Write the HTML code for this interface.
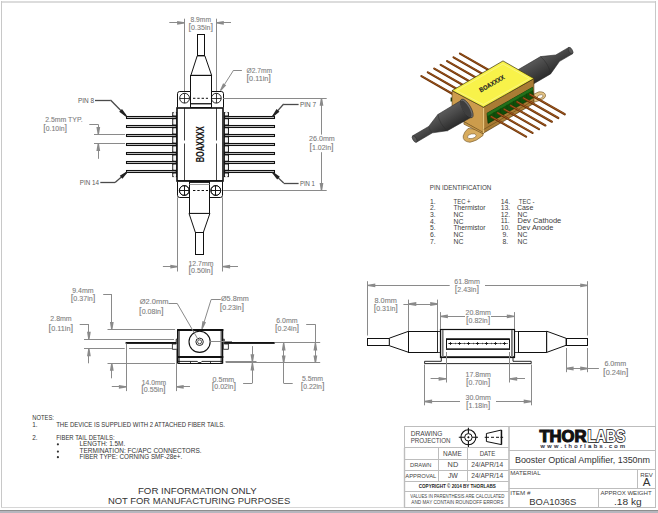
<!DOCTYPE html>
<html><head><meta charset="utf-8"><style>html,body{margin:0;padding:0;background:#fff;overflow:hidden}svg{display:block}</style></head>
<body><svg width="658" height="513" viewBox="0 0 658 513">
<rect x="0" y="0" width="658" height="513" fill="#fff"/>
<rect x="1" y="1" width="655" height="2" fill="#dcdcdc"/>
<rect x="1" y="1" width="1" height="507" fill="#c8c8c8"/>
<rect x="655" y="1" width="1" height="507" fill="#c8c8c8"/>
<rect x="1" y="507" width="655" height="1" fill="#d6d6d6"/>
<rect x="0" y="510" width="658" height="1" fill="#8e8e8e"/>
<rect x="0" y="511" width="658" height="2" fill="#b6b6be"/>
<line x1="184.50" y1="18.70" x2="184.50" y2="91.00" stroke="#8a8a8a" stroke-width="1.0" />
<line x1="216.50" y1="18.70" x2="216.50" y2="91.00" stroke="#8a8a8a" stroke-width="1.0" />
<line x1="169.30" y1="22.50" x2="184.60" y2="22.50" stroke="#8a8a8a" stroke-width="1.0" />
<polygon points="184.60,23.45 177.10,24.69 177.10,20.91 184.60,22.15" fill="#8a8a8a" stroke="none" stroke-width="1.0" />
<line x1="216.30" y1="22.50" x2="231.00" y2="22.50" stroke="#8a8a8a" stroke-width="1.0" />
<polygon points="216.30,22.15 223.80,20.91 223.80,24.69 216.30,23.45" fill="#8a8a8a" stroke="none" stroke-width="1.0" />
<text x="190.50" y="22.10" font-family="Liberation Sans" font-size="6.8" fill="#7c7c7c" text-anchor="start" font-weight="normal" textLength="20.50" lengthAdjust="spacingAndGlyphs"  stroke="#7c7c7c" stroke-width="0.08">8.9mm</text>
<text x="188.50" y="30.30" font-family="Liberation Sans" font-size="6.8" fill="#7c7c7c" text-anchor="start" font-weight="normal" textLength="24.50" lengthAdjust="spacingAndGlyphs"  stroke="#7c7c7c" stroke-width="0.08"><tspan font-size="8.84">[</tspan>0.35in<tspan font-size="8.84">]</tspan></text>
<rect x="197.50" y="34.50" width="7.00" height="21.00" rx="0" fill="#fff" stroke="#111" stroke-width="1.0" />
<polygon points="197.20,55.90 204.90,55.90 211.60,75.30 190.90,75.30" fill="#fff" stroke="#111" stroke-width="1.0" />
<rect x="190.50" y="75.50" width="21.00" height="32.00" rx="0" fill="#fff" stroke="#111" stroke-width="1.0" />
<line x1="190.90" y1="103.50" x2="211.60" y2="103.50" stroke="#111" stroke-width="0.9" />
<line x1="190.90" y1="104.50" x2="211.60" y2="104.50" stroke="#777" stroke-width="0.7" />
<path d="M177.5,107.5 L177.5,93.7 Q177.5,91.5 179.7,91.5 L190.5,91.5 L190.5,107.5" fill="#fff" stroke="#111" stroke-width="1"/>
<path d="M211.5,107.5 L211.5,91.5 L221.3,91.5 Q223.5,91.5 223.5,93.7 L223.5,107.5" fill="#fff" stroke="#111" stroke-width="1"/>
<circle cx="184.60" cy="98.20" r="4.90" fill="none" stroke="#111" stroke-width="0.9" />
<line x1="179.70" y1="98.50" x2="189.50" y2="98.50" stroke="#111" stroke-width="0.8" />
<line x1="184.50" y1="93.30" x2="184.50" y2="103.10" stroke="#111" stroke-width="0.8" />
<circle cx="216.30" cy="98.20" r="4.90" fill="none" stroke="#111" stroke-width="0.9" />
<line x1="211.40" y1="98.50" x2="221.20" y2="98.50" stroke="#111" stroke-width="0.8" />
<line x1="216.50" y1="93.30" x2="216.50" y2="103.10" stroke="#111" stroke-width="0.8" />
<line x1="193" y1="98.3" x2="208" y2="98.3" stroke="#111" stroke-width="1" stroke-dasharray="2.4,1.9"/>
<line x1="223.10" y1="98.50" x2="326.70" y2="98.50" stroke="#8a8a8a" stroke-width="1.0" />
<line x1="223.10" y1="190.50" x2="326.70" y2="190.50" stroke="#8a8a8a" stroke-width="1.0" />
<line x1="321.50" y1="98.20" x2="321.50" y2="134.60" stroke="#8a8a8a" stroke-width="1.0" />
<polygon points="322.15,98.20 323.38,105.70 319.62,105.70 320.85,98.20" fill="#8a8a8a" stroke="none" stroke-width="1.0" />
<line x1="321.50" y1="152.20" x2="321.50" y2="190.50" stroke="#8a8a8a" stroke-width="1.0" />
<polygon points="320.85,190.50 319.62,183.00 323.38,183.00 322.15,190.50" fill="#8a8a8a" stroke="none" stroke-width="1.0" />
<text x="309.00" y="141.00" font-family="Liberation Sans" font-size="6.8" fill="#7c7c7c" text-anchor="start" font-weight="normal" textLength="25.80" lengthAdjust="spacingAndGlyphs"  stroke="#7c7c7c" stroke-width="0.08">26.0mm</text>
<text x="309.50" y="149.70" font-family="Liberation Sans" font-size="6.8" fill="#7c7c7c" text-anchor="start" font-weight="normal" textLength="24.10" lengthAdjust="spacingAndGlyphs"  stroke="#7c7c7c" stroke-width="0.08"><tspan font-size="8.84">[</tspan>1.02in<tspan font-size="8.84">]</tspan></text>
<line x1="241.90" y1="70.50" x2="233.70" y2="70.50" stroke="#8a8a8a" stroke-width="1.0" />
<line x1="233.70" y1="70.00" x2="220.60" y2="90.50" stroke="#8a8a8a" stroke-width="1.0" />
<polygon points="220.05,90.15 223.05,83.17 226.23,85.20 221.15,90.85" fill="#8a8a8a" stroke="none" stroke-width="1.0" />
<text x="246.50" y="72.80" font-family="Liberation Sans" font-size="6.8" fill="#7c7c7c" text-anchor="start" font-weight="normal" textLength="25.50" lengthAdjust="spacingAndGlyphs"  stroke="#7c7c7c" stroke-width="0.08">Ø2.7mm</text>
<text x="246.50" y="80.60" font-family="Liberation Sans" font-size="6.8" fill="#7c7c7c" text-anchor="start" font-weight="normal" textLength="24.50" lengthAdjust="spacingAndGlyphs"  stroke="#7c7c7c" stroke-width="0.08"><tspan font-size="8.84">[</tspan>0.11in<tspan font-size="8.84">]</tspan></text>
<rect x="126.50" y="116.50" width="46.00" height="2.00" rx="0" fill="#c4c4c4" stroke="#111" stroke-width="1.05" />
<rect x="228.50" y="116.50" width="46.00" height="2.00" rx="0" fill="#c4c4c4" stroke="#111" stroke-width="1.05" />
<rect x="126.50" y="125.50" width="46.00" height="2.00" rx="0" fill="#c4c4c4" stroke="#111" stroke-width="1.05" />
<rect x="228.50" y="125.50" width="46.00" height="2.00" rx="0" fill="#c4c4c4" stroke="#111" stroke-width="1.05" />
<rect x="126.50" y="134.50" width="46.00" height="2.00" rx="0" fill="#c4c4c4" stroke="#111" stroke-width="1.05" />
<rect x="228.50" y="134.50" width="46.00" height="2.00" rx="0" fill="#c4c4c4" stroke="#111" stroke-width="1.05" />
<rect x="126.50" y="143.50" width="46.00" height="2.00" rx="0" fill="#c4c4c4" stroke="#111" stroke-width="1.05" />
<rect x="228.50" y="143.50" width="46.00" height="2.00" rx="0" fill="#c4c4c4" stroke="#111" stroke-width="1.05" />
<rect x="126.50" y="152.50" width="46.00" height="2.00" rx="0" fill="#c4c4c4" stroke="#111" stroke-width="1.05" />
<rect x="228.50" y="152.50" width="46.00" height="2.00" rx="0" fill="#c4c4c4" stroke="#111" stroke-width="1.05" />
<rect x="126.50" y="161.50" width="46.00" height="2.00" rx="0" fill="#c4c4c4" stroke="#111" stroke-width="1.05" />
<rect x="228.50" y="161.50" width="46.00" height="2.00" rx="0" fill="#c4c4c4" stroke="#111" stroke-width="1.05" />
<rect x="126.50" y="170.50" width="46.00" height="2.00" rx="0" fill="#c4c4c4" stroke="#111" stroke-width="1.05" />
<rect x="228.50" y="170.50" width="46.00" height="2.00" rx="0" fill="#c4c4c4" stroke="#111" stroke-width="1.05" />
<rect x="172.80" y="112.6" width="4.0" height="64" fill="#fff" stroke="#111" stroke-width="1"/>
<rect x="224.40" y="112.6" width="4.0" height="64" fill="#fff" stroke="#111" stroke-width="1"/>
<rect x="172.30" y="115.45" width="5.0" height="3.8" fill="#111"/>
<rect x="223.90" y="115.45" width="5.0" height="3.8" fill="#111"/>
<rect x="172.1" y="116.95" width="3.6" height="0.8" fill="#cfcfcf"/>
<rect x="225.2" y="116.95" width="3.6" height="0.8" fill="#cfcfcf"/>
<rect x="172.30" y="124.50" width="5.0" height="3.8" fill="#111"/>
<rect x="223.90" y="124.50" width="5.0" height="3.8" fill="#111"/>
<rect x="172.1" y="126.00" width="3.6" height="0.8" fill="#cfcfcf"/>
<rect x="225.2" y="126.00" width="3.6" height="0.8" fill="#cfcfcf"/>
<rect x="172.30" y="133.55" width="5.0" height="3.8" fill="#111"/>
<rect x="223.90" y="133.55" width="5.0" height="3.8" fill="#111"/>
<rect x="172.1" y="135.05" width="3.6" height="0.8" fill="#cfcfcf"/>
<rect x="225.2" y="135.05" width="3.6" height="0.8" fill="#cfcfcf"/>
<rect x="172.30" y="142.60" width="5.0" height="3.8" fill="#111"/>
<rect x="223.90" y="142.60" width="5.0" height="3.8" fill="#111"/>
<rect x="172.1" y="144.10" width="3.6" height="0.8" fill="#cfcfcf"/>
<rect x="225.2" y="144.10" width="3.6" height="0.8" fill="#cfcfcf"/>
<rect x="172.30" y="151.65" width="5.0" height="3.8" fill="#111"/>
<rect x="223.90" y="151.65" width="5.0" height="3.8" fill="#111"/>
<rect x="172.1" y="153.15" width="3.6" height="0.8" fill="#cfcfcf"/>
<rect x="225.2" y="153.15" width="3.6" height="0.8" fill="#cfcfcf"/>
<rect x="172.30" y="160.70" width="5.0" height="3.8" fill="#111"/>
<rect x="223.90" y="160.70" width="5.0" height="3.8" fill="#111"/>
<rect x="172.1" y="162.20" width="3.6" height="0.8" fill="#cfcfcf"/>
<rect x="225.2" y="162.20" width="3.6" height="0.8" fill="#cfcfcf"/>
<rect x="172.30" y="169.75" width="5.0" height="3.8" fill="#111"/>
<rect x="223.90" y="169.75" width="5.0" height="3.8" fill="#111"/>
<rect x="172.1" y="171.25" width="3.6" height="0.8" fill="#cfcfcf"/>
<rect x="225.2" y="171.25" width="3.6" height="0.8" fill="#cfcfcf"/>
<rect x="173.7" y="111.05" width="2.2" height="4.0" fill="#f4f4f4"/>
<rect x="225.3" y="111.05" width="2.2" height="4.0" fill="#f4f4f4"/>
<rect x="173.7" y="119.88" width="2.2" height="4.0" fill="#f4f4f4"/>
<rect x="225.3" y="119.88" width="2.2" height="4.0" fill="#f4f4f4"/>
<rect x="173.7" y="128.92" width="2.2" height="4.0" fill="#f4f4f4"/>
<rect x="225.3" y="128.92" width="2.2" height="4.0" fill="#f4f4f4"/>
<rect x="173.7" y="137.97" width="2.2" height="4.0" fill="#f4f4f4"/>
<rect x="225.3" y="137.97" width="2.2" height="4.0" fill="#f4f4f4"/>
<rect x="173.7" y="147.03" width="2.2" height="4.0" fill="#f4f4f4"/>
<rect x="225.3" y="147.03" width="2.2" height="4.0" fill="#f4f4f4"/>
<rect x="173.7" y="156.07" width="2.2" height="4.0" fill="#f4f4f4"/>
<rect x="225.3" y="156.07" width="2.2" height="4.0" fill="#f4f4f4"/>
<rect x="173.7" y="165.12" width="2.2" height="4.0" fill="#f4f4f4"/>
<rect x="225.3" y="165.12" width="2.2" height="4.0" fill="#f4f4f4"/>
<rect x="173.7" y="173.95" width="2.2" height="4.0" fill="#f4f4f4"/>
<rect x="225.3" y="173.95" width="2.2" height="4.0" fill="#f4f4f4"/>
<rect x="177.00" y="108.00" width="46.00" height="73.00" rx="0" fill="#fff" stroke="#111" stroke-width="1.6" />
<line x1="184.50" y1="107.80" x2="184.50" y2="140.50" stroke="#111" stroke-width="0.8" />
<line x1="184.50" y1="143.50" x2="184.50" y2="181.10" stroke="#111" stroke-width="0.8" />
<line x1="216.50" y1="107.80" x2="216.50" y2="140.50" stroke="#111" stroke-width="0.8" />
<line x1="216.50" y1="143.50" x2="216.50" y2="181.10" stroke="#111" stroke-width="0.8" />
<text transform="translate(203.8,144.3) rotate(-90)" font-family="Liberation Sans" font-size="10.2" font-weight="bold" fill="#111" stroke="#111" stroke-width="0.1" text-anchor="middle" textLength="36" lengthAdjust="spacingAndGlyphs">BOAXXXX</text>
<path d="M177.5,181.5 L177.5,195.3 Q177.5,197.5 179.7,197.5 L189.5,197.5 L189.5,181.5" fill="#fff" stroke="#111" stroke-width="1"/>
<path d="M209.5,181.5 L209.5,197.5 L220.3,197.5 Q222.5,197.5 222.5,195.3 L222.5,181.5" fill="#fff" stroke="#111" stroke-width="1"/>
<circle cx="184.30" cy="190.50" r="4.90" fill="none" stroke="#111" stroke-width="0.9" />
<line x1="179.40" y1="190.50" x2="189.20" y2="190.50" stroke="#111" stroke-width="0.8" />
<line x1="184.50" y1="185.60" x2="184.50" y2="195.40" stroke="#111" stroke-width="0.8" />
<circle cx="215.80" cy="190.50" r="4.90" fill="none" stroke="#111" stroke-width="0.9" />
<line x1="210.90" y1="190.50" x2="220.70" y2="190.50" stroke="#111" stroke-width="0.8" />
<line x1="215.50" y1="185.60" x2="215.50" y2="195.40" stroke="#111" stroke-width="0.8" />
<rect x="189.50" y="181.50" width="20.00" height="32.00" rx="0" fill="#fff" stroke="#111" stroke-width="1.0" />
<line x1="193" y1="190.5" x2="208" y2="190.5" stroke="#111" stroke-width="1" stroke-dasharray="2.4,1.9"/>
<line x1="189.00" y1="182.50" x2="209.90" y2="182.50" stroke="#111" stroke-width="0.9" />
<line x1="189.00" y1="184.50" x2="209.90" y2="184.50" stroke="#777" stroke-width="0.7" />
<circle cx="184.30" cy="190.50" r="4.90" fill="none" stroke="#111" stroke-width="0.9" />
<line x1="179.40" y1="190.50" x2="189.20" y2="190.50" stroke="#111" stroke-width="0.8" />
<line x1="184.50" y1="185.60" x2="184.50" y2="195.40" stroke="#111" stroke-width="0.8" />
<circle cx="215.80" cy="190.50" r="4.90" fill="none" stroke="#111" stroke-width="0.9" />
<line x1="210.90" y1="190.50" x2="220.70" y2="190.50" stroke="#111" stroke-width="0.8" />
<line x1="215.50" y1="185.60" x2="215.50" y2="195.40" stroke="#111" stroke-width="0.8" />
<polygon points="189.00,213.40 209.90,213.40 203.30,232.50 195.40,232.50" fill="#fff" stroke="#111" stroke-width="1.0" />
<rect x="195.50" y="232.50" width="8.00" height="22.00" rx="0" fill="#fff" stroke="#111" stroke-width="1.0" />
<line x1="177.30" y1="181.00" x2="222.90" y2="181.00" stroke="#111" stroke-width="1.6" />
<line x1="177.50" y1="197.30" x2="177.50" y2="271.50" stroke="#8a8a8a" stroke-width="1.0" />
<line x1="222.50" y1="197.30" x2="222.50" y2="271.50" stroke="#8a8a8a" stroke-width="1.0" />
<line x1="162.90" y1="266.50" x2="177.80" y2="266.50" stroke="#8a8a8a" stroke-width="1.0" />
<polygon points="177.80,267.25 170.30,268.49 170.30,264.72 177.80,265.95" fill="#8a8a8a" stroke="none" stroke-width="1.0" />
<line x1="222.60" y1="266.50" x2="238.00" y2="266.50" stroke="#8a8a8a" stroke-width="1.0" />
<polygon points="222.60,265.95 230.10,264.72 230.10,268.49 222.60,267.25" fill="#8a8a8a" stroke="none" stroke-width="1.0" />
<text x="188.50" y="265.60" font-family="Liberation Sans" font-size="6.8" fill="#7c7c7c" text-anchor="start" font-weight="normal" textLength="25.00" lengthAdjust="spacingAndGlyphs"  stroke="#7c7c7c" stroke-width="0.08">12.7mm</text>
<text x="188.50" y="272.50" font-family="Liberation Sans" font-size="6.8" fill="#7c7c7c" text-anchor="start" font-weight="normal" textLength="24.50" lengthAdjust="spacingAndGlyphs"  stroke="#7c7c7c" stroke-width="0.08"><tspan font-size="8.84">[</tspan>0.50in<tspan font-size="8.84">]</tspan></text>
<text x="78.00" y="102.90" font-family="Liberation Sans" font-size="7.0" fill="#5a5a5a" text-anchor="start" font-weight="normal" textLength="16.10" lengthAdjust="spacingAndGlyphs" stroke-width="0">PIN 8</text>
<line x1="95.00" y1="100.50" x2="110.50" y2="100.50" stroke="#4a4a4a" stroke-width="1.3" />
<line x1="110.50" y1="100.00" x2="126.20" y2="116.00" stroke="#4a4a4a" stroke-width="1.3" />
<polygon points="125.72,116.47 119.21,111.65 121.99,108.92 126.68,115.53" fill="#222" stroke="none" stroke-width="1.0" />
<text x="79.80" y="184.70" font-family="Liberation Sans" font-size="7.0" fill="#5a5a5a" text-anchor="start" font-weight="normal" textLength="19.20" lengthAdjust="spacingAndGlyphs" stroke-width="0">PIN 14</text>
<line x1="100.30" y1="182.50" x2="115.10" y2="182.50" stroke="#4a4a4a" stroke-width="1.3" />
<line x1="115.10" y1="182.50" x2="127.10" y2="172.00" stroke="#4a4a4a" stroke-width="1.3" />
<polygon points="127.54,172.51 122.36,178.74 119.80,175.80 126.66,171.49" fill="#222" stroke="none" stroke-width="1.0" />
<text x="299.90" y="107.10" font-family="Liberation Sans" font-size="7.0" fill="#5a5a5a" text-anchor="start" font-weight="normal" textLength="16.20" lengthAdjust="spacingAndGlyphs" stroke-width="0">PIN 7</text>
<line x1="283.70" y1="104.50" x2="298.60" y2="104.50" stroke="#4a4a4a" stroke-width="1.3" />
<line x1="283.70" y1="104.00" x2="272.70" y2="116.40" stroke="#4a4a4a" stroke-width="1.3" />
<polygon points="272.19,115.95 276.54,109.12 279.46,111.70 273.21,116.85" fill="#222" stroke="none" stroke-width="1.0" />
<text x="299.90" y="185.90" font-family="Liberation Sans" font-size="7.0" fill="#5a5a5a" text-anchor="start" font-weight="normal" textLength="15.00" lengthAdjust="spacingAndGlyphs" stroke-width="0">PIN 1</text>
<line x1="283.70" y1="183.50" x2="298.60" y2="183.50" stroke="#4a4a4a" stroke-width="1.3" />
<line x1="283.70" y1="183.00" x2="272.70" y2="172.60" stroke="#4a4a4a" stroke-width="1.3" />
<polygon points="273.16,172.11 279.85,176.68 277.18,179.51 272.24,173.09" fill="#222" stroke="none" stroke-width="1.0" />
<text x="45.20" y="122.20" font-family="Liberation Sans" font-size="6.8" fill="#7c7c7c" text-anchor="start" font-weight="normal" textLength="37.40" lengthAdjust="spacingAndGlyphs"  stroke="#7c7c7c" stroke-width="0.08">2.5mm  TYP.</text>
<text x="43.30" y="131.00" font-family="Liberation Sans" font-size="6.8" fill="#7c7c7c" text-anchor="start" font-weight="normal" textLength="23.70" lengthAdjust="spacingAndGlyphs"  stroke="#7c7c7c" stroke-width="0.08"><tspan font-size="8.84">[</tspan>0.10in<tspan font-size="8.84">]</tspan></text>
<line x1="89.30" y1="124.50" x2="98.30" y2="124.50" stroke="#8a8a8a" stroke-width="1.0" />
<line x1="98.50" y1="124.40" x2="98.50" y2="134.40" stroke="#8a8a8a" stroke-width="1.0" />
<polygon points="97.65,134.40 96.41,126.90 100.19,126.90 98.95,134.40" fill="#8a8a8a" stroke="none" stroke-width="1.0" />
<line x1="94.00" y1="134.50" x2="125.00" y2="134.50" stroke="#8a8a8a" stroke-width="1.0" />
<line x1="94.00" y1="143.50" x2="125.00" y2="143.50" stroke="#8a8a8a" stroke-width="1.0" />
<line x1="98.50" y1="143.50" x2="98.50" y2="158.80" stroke="#8a8a8a" stroke-width="1.0" />
<polygon points="98.95,143.50 100.19,151.00 96.41,151.00 97.65,143.50" fill="#8a8a8a" stroke="none" stroke-width="1.0" />
<defs><linearGradient id="gL" gradientUnits="userSpaceOnUse" x1="436" y1="113" x2="447" y2="131"><stop offset="0" stop-color="#606060"/><stop offset="0.45" stop-color="#4a4a4a"/><stop offset="1" stop-color="#2c2c2c"/></linearGradient><linearGradient id="gR" gradientUnits="userSpaceOnUse" x1="538" y1="55" x2="549" y2="74"><stop offset="0" stop-color="#5e5e5e"/><stop offset="0.5" stop-color="#464646"/><stop offset="1" stop-color="#2e2e2e"/></linearGradient></defs>
<line x1="421.40" y1="76.10" x2="452.68" y2="93.92" stroke="#6a3206" stroke-width="2.2" stroke-linecap="round"/>
<line x1="421.40" y1="75.90" x2="452.68" y2="93.72" stroke="#a0561e" stroke-width="0.9" stroke-linecap="round"/>
<line x1="427.83" y1="72.35" x2="459.11" y2="90.17" stroke="#6a3206" stroke-width="2.2" stroke-linecap="round"/>
<line x1="427.83" y1="72.15" x2="459.11" y2="89.97" stroke="#a0561e" stroke-width="0.9" stroke-linecap="round"/>
<line x1="434.26" y1="68.60" x2="465.54" y2="86.42" stroke="#6a3206" stroke-width="2.2" stroke-linecap="round"/>
<line x1="434.26" y1="68.40" x2="465.54" y2="86.22" stroke="#a0561e" stroke-width="0.9" stroke-linecap="round"/>
<line x1="440.69" y1="64.85" x2="471.97" y2="82.67" stroke="#6a3206" stroke-width="2.2" stroke-linecap="round"/>
<line x1="440.69" y1="64.65" x2="471.97" y2="82.47" stroke="#a0561e" stroke-width="0.9" stroke-linecap="round"/>
<line x1="447.12" y1="61.10" x2="478.40" y2="78.92" stroke="#6a3206" stroke-width="2.2" stroke-linecap="round"/>
<line x1="447.12" y1="60.90" x2="478.40" y2="78.72" stroke="#a0561e" stroke-width="0.9" stroke-linecap="round"/>
<line x1="453.55" y1="57.35" x2="484.83" y2="75.17" stroke="#6a3206" stroke-width="2.2" stroke-linecap="round"/>
<line x1="453.55" y1="57.15" x2="484.83" y2="74.97" stroke="#a0561e" stroke-width="0.9" stroke-linecap="round"/>
<line x1="459.98" y1="53.60" x2="491.26" y2="71.42" stroke="#6a3206" stroke-width="2.2" stroke-linecap="round"/>
<line x1="459.98" y1="53.40" x2="491.26" y2="71.22" stroke="#a0561e" stroke-width="0.9" stroke-linecap="round"/>
<polygon points="568.73,47.41 555.79,54.98 540.52,56.62 512.04,73.28 522.14,90.54 550.62,73.88 559.52,61.37 572.47,53.79" fill="url(#gR)" stroke="#2a2a2a" stroke-width="0.6" />
<ellipse cx="570.60" cy="50.60" rx="1.8" ry="3.7" transform="rotate(-30.3 570.60 50.60)" fill="#585858" stroke="#2a2a2a" stroke-width="0.5"/>
<path d="M540.52,56.62 Q548.59,63.48 550.62,73.88" fill="none" stroke="#2a2a2a" stroke-width="0.5"/>
<path d="M532,95 L539,91.8 Q545.5,91.5 545.6,96 Q545.2,98.6 540.5,100.2 L533,102.5 Z" fill="#e4c486" stroke="#6b4d1e" stroke-width="0.6"/>
<ellipse cx="540.2" cy="96.6" rx="3.0" ry="1.7" transform="rotate(-20 540.2 96.6)" fill="#fff" stroke="#6b4d1e" stroke-width="0.5"/>
<path d="M468,128.5 L475,129 L483,133.5 L483,135.5 Q476,141.5 470,142.3 Q462.5,141.5 463.2,136 Q464,132 468,128.5 Z" fill="#d8ac5e" stroke="#6b4d1e" stroke-width="0.6"/>
<ellipse cx="471.8" cy="136.2" rx="4.4" ry="2.3" transform="rotate(-12 471.8 136.2)" fill="#fff" stroke="#6b4d1e" stroke-width="0.5"/>
<rect x="450.6" y="97.5" width="1.6" height="4" fill="#0c3a08"/>
<polygon points="452.10,90.60 483.40,107.20 483.40,133.20 463.90,121.70 452.10,115.40" fill="#cc9c4c" stroke="#5a3f14" stroke-width="0.6" />
<polygon points="463.90,121.70 483.40,132.40 483.40,134.00 467.80,126.20 463.90,124.20" fill="#c89a4c" stroke="#5a3f14" stroke-width="0.5" />
<polygon points="483.40,107.20 533.90,78.60 533.90,103.40 483.40,133.20" fill="#a97c34" stroke="#4a3210" stroke-width="0.6" />
<line x1="483.50" y1="107.70" x2="483.50" y2="133.20" stroke="#e6c47c" stroke-width="1.3" />
<line x1="483.60" y1="129.50" x2="533.90" y2="100.20" stroke="#5a3f14" stroke-width="0.5" />
<polygon points="452.10,90.60 503.00,60.90 533.90,78.60 483.40,107.20" fill="#f8f24a" stroke="#3a3008" stroke-width="0.7" />
<polygon points="456.50,90.70 503.00,64.00 529.60,78.70 483.40,104.60" fill="none" stroke="#faf6a0" stroke-width="0.6" />
<text transform="translate(493.0,85.6) rotate(-29.8)" font-family="Liberation Sans" font-size="6.4" font-weight="bold" fill="#222" stroke="#222" stroke-width="0.15" text-anchor="middle" textLength="28" lengthAdjust="spacingAndGlyphs">BOAXXXX</text>
<polygon points="487.00,113.20 532.60,87.30 533.60,97.60 488.00,123.40" fill="#0f4f0a" stroke="#062a03" stroke-width="0.6" />
<polygon points="487.00,113.20 532.60,87.30 533.20,90.00 487.60,115.90" fill="#22701a" stroke="none" stroke-width="0" />
<line x1="493.90" y1="112.00" x2="494.30" y2="119.50" stroke="#0e3a08" stroke-width="0.5" />
<line x1="500.40" y1="108.30" x2="500.80" y2="115.80" stroke="#0e3a08" stroke-width="0.5" />
<line x1="506.90" y1="104.60" x2="507.30" y2="112.10" stroke="#0e3a08" stroke-width="0.5" />
<line x1="513.40" y1="100.90" x2="513.80" y2="108.40" stroke="#0e3a08" stroke-width="0.5" />
<line x1="519.90" y1="97.20" x2="520.30" y2="104.70" stroke="#0e3a08" stroke-width="0.5" />
<line x1="526.40" y1="93.50" x2="526.80" y2="101.00" stroke="#0e3a08" stroke-width="0.5" />
<line x1="491.30" y1="116.80" x2="526.06" y2="136.60" stroke="#6a3206" stroke-width="2.2" stroke-linecap="round"/>
<line x1="491.30" y1="116.55" x2="526.06" y2="136.35" stroke="#b0642a" stroke-width="0.8" stroke-linecap="round"/>
<line x1="497.75" y1="113.08" x2="532.51" y2="132.88" stroke="#6a3206" stroke-width="2.2" stroke-linecap="round"/>
<line x1="497.75" y1="112.83" x2="532.51" y2="132.63" stroke="#b0642a" stroke-width="0.8" stroke-linecap="round"/>
<line x1="504.20" y1="109.36" x2="538.96" y2="129.16" stroke="#6a3206" stroke-width="2.2" stroke-linecap="round"/>
<line x1="504.20" y1="109.11" x2="538.96" y2="128.91" stroke="#b0642a" stroke-width="0.8" stroke-linecap="round"/>
<line x1="510.65" y1="105.64" x2="545.41" y2="125.44" stroke="#6a3206" stroke-width="2.2" stroke-linecap="round"/>
<line x1="510.65" y1="105.39" x2="545.41" y2="125.19" stroke="#b0642a" stroke-width="0.8" stroke-linecap="round"/>
<line x1="517.10" y1="101.92" x2="551.86" y2="121.72" stroke="#6a3206" stroke-width="2.2" stroke-linecap="round"/>
<line x1="517.10" y1="101.67" x2="551.86" y2="121.47" stroke="#b0642a" stroke-width="0.8" stroke-linecap="round"/>
<line x1="523.55" y1="98.20" x2="558.31" y2="118.00" stroke="#6a3206" stroke-width="2.2" stroke-linecap="round"/>
<line x1="523.55" y1="97.95" x2="558.31" y2="117.75" stroke="#b0642a" stroke-width="0.8" stroke-linecap="round"/>
<line x1="530.00" y1="94.48" x2="564.76" y2="114.28" stroke="#6a3206" stroke-width="2.2" stroke-linecap="round"/>
<line x1="530.00" y1="94.23" x2="564.76" y2="114.03" stroke="#b0642a" stroke-width="0.8" stroke-linecap="round"/>
<polygon points="416.47,142.19 432.43,132.85 447.39,130.70 471.76,116.90 461.86,99.99 437.90,114.48 428.70,126.46 412.73,135.81" fill="url(#gL)" stroke="#2a2a2a" stroke-width="0.6" />
<ellipse cx="466.81" cy="108.45" rx="4.0" ry="10.6" transform="rotate(-30.3 466.81 108.45)" fill="#707070" stroke="#2a2a2a" stroke-width="0.6"/>
<ellipse cx="466.11" cy="108.85" rx="3.2" ry="9.4" transform="rotate(-30.3 466.11 108.85)" fill="#3e3e3e" stroke="none"/>
<ellipse cx="414.60" cy="139.00" rx="1.8" ry="3.7" transform="rotate(-30.3 414.60 139.00)" fill="#585858" stroke="#2a2a2a" stroke-width="0.5"/>
<path d="M437.80,114.30 Q439.63,124.36 447.50,130.87" fill="none" stroke="#2a2a2a" stroke-width="0.5"/>
<path d="M428.70,126.46 Q429.27,130.41 432.43,132.85" fill="none" stroke="#2a2a2a" stroke-width="0.4"/>
<text x="429.80" y="189.80" font-family="Liberation Sans" font-size="6.6" fill="#3c3c3c" text-anchor="start" font-weight="normal" textLength="61.50" lengthAdjust="spacingAndGlyphs" >PIN IDENTIFICATION</text>
<text x="430.00" y="203.90" font-family="Liberation Sans" font-size="6.8" fill="#3c3c3c" text-anchor="start" font-weight="normal" >1.</text>
<text x="453.50" y="203.90" font-family="Liberation Sans" font-size="6.8" fill="#3c3c3c" text-anchor="start" font-weight="normal" textLength="17.10" lengthAdjust="spacingAndGlyphs" >TEC +</text>
<text x="430.00" y="209.60" font-family="Liberation Sans" font-size="6.8" fill="#3c3c3c" text-anchor="start" font-weight="normal" >2.</text>
<text x="453.50" y="209.60" font-family="Liberation Sans" font-size="6.8" fill="#3c3c3c" text-anchor="start" font-weight="normal" textLength="31.90" lengthAdjust="spacingAndGlyphs" >Thermistor</text>
<text x="430.00" y="216.80" font-family="Liberation Sans" font-size="6.8" fill="#3c3c3c" text-anchor="start" font-weight="normal" >3.</text>
<text x="453.50" y="216.80" font-family="Liberation Sans" font-size="6.8" fill="#3c3c3c" text-anchor="start" font-weight="normal" textLength="9.90" lengthAdjust="spacingAndGlyphs" >NC</text>
<text x="430.00" y="223.70" font-family="Liberation Sans" font-size="6.8" fill="#3c3c3c" text-anchor="start" font-weight="normal" >4.</text>
<text x="453.50" y="223.70" font-family="Liberation Sans" font-size="6.8" fill="#3c3c3c" text-anchor="start" font-weight="normal" textLength="9.90" lengthAdjust="spacingAndGlyphs" >NC</text>
<text x="430.00" y="229.80" font-family="Liberation Sans" font-size="6.8" fill="#3c3c3c" text-anchor="start" font-weight="normal" >5.</text>
<text x="453.50" y="229.80" font-family="Liberation Sans" font-size="6.8" fill="#3c3c3c" text-anchor="start" font-weight="normal" textLength="31.90" lengthAdjust="spacingAndGlyphs" >Thermistor</text>
<text x="430.00" y="237.10" font-family="Liberation Sans" font-size="6.8" fill="#3c3c3c" text-anchor="start" font-weight="normal" >6.</text>
<text x="453.50" y="237.10" font-family="Liberation Sans" font-size="6.8" fill="#3c3c3c" text-anchor="start" font-weight="normal" textLength="9.90" lengthAdjust="spacingAndGlyphs" >NC</text>
<text x="430.00" y="243.90" font-family="Liberation Sans" font-size="6.8" fill="#3c3c3c" text-anchor="start" font-weight="normal" >7.</text>
<text x="453.50" y="243.90" font-family="Liberation Sans" font-size="6.8" fill="#3c3c3c" text-anchor="start" font-weight="normal" textLength="9.90" lengthAdjust="spacingAndGlyphs" >NC</text>
<text x="500.80" y="203.60" font-family="Liberation Sans" font-size="6.8" fill="#3c3c3c" text-anchor="start" font-weight="normal" >14.</text>
<text x="518.70" y="203.60" font-family="Liberation Sans" font-size="6.8" fill="#3c3c3c" text-anchor="start" font-weight="normal" textLength="15.80" lengthAdjust="spacingAndGlyphs" >TEC -</text>
<text x="500.80" y="209.70" font-family="Liberation Sans" font-size="6.8" fill="#3c3c3c" text-anchor="start" font-weight="normal" >13.</text>
<text x="516.90" y="209.70" font-family="Liberation Sans" font-size="6.8" fill="#3c3c3c" text-anchor="start" font-weight="normal" textLength="16.40" lengthAdjust="spacingAndGlyphs" >Case</text>
<text x="500.80" y="217.00" font-family="Liberation Sans" font-size="6.8" fill="#3c3c3c" text-anchor="start" font-weight="normal" >12.</text>
<text x="517.50" y="217.00" font-family="Liberation Sans" font-size="6.8" fill="#3c3c3c" text-anchor="start" font-weight="normal" textLength="9.90" lengthAdjust="spacingAndGlyphs" >NC</text>
<text x="500.80" y="223.40" font-family="Liberation Sans" font-size="6.8" fill="#3c3c3c" text-anchor="start" font-weight="normal" >11.</text>
<text x="517.50" y="223.40" font-family="Liberation Sans" font-size="6.8" fill="#3c3c3c" text-anchor="start" font-weight="normal" textLength="43.80" lengthAdjust="spacingAndGlyphs" >Dev Cathode</text>
<text x="500.80" y="229.50" font-family="Liberation Sans" font-size="6.8" fill="#3c3c3c" text-anchor="start" font-weight="normal" >10.</text>
<text x="517.00" y="229.50" font-family="Liberation Sans" font-size="6.8" fill="#3c3c3c" text-anchor="start" font-weight="normal" textLength="36.40" lengthAdjust="spacingAndGlyphs" >Dev Anode</text>
<text x="502.50" y="236.80" font-family="Liberation Sans" font-size="6.8" fill="#3c3c3c" text-anchor="start" font-weight="normal" >9.</text>
<text x="517.50" y="236.80" font-family="Liberation Sans" font-size="6.8" fill="#3c3c3c" text-anchor="start" font-weight="normal" textLength="9.90" lengthAdjust="spacingAndGlyphs" >NC</text>
<text x="502.50" y="243.50" font-family="Liberation Sans" font-size="6.8" fill="#3c3c3c" text-anchor="start" font-weight="normal" >8.</text>
<text x="517.50" y="243.50" font-family="Liberation Sans" font-size="6.8" fill="#3c3c3c" text-anchor="start" font-weight="normal" textLength="9.90" lengthAdjust="spacingAndGlyphs" >NC</text>
<rect x="125.6" y="342" width="51.6" height="1.9" fill="#111"/>
<rect x="223.3" y="342" width="51.4" height="1.9" fill="#111"/>
<rect x="177" y="329" width="2.9" height="34.5" fill="#666"/>
<rect x="220.5" y="329" width="2.9" height="34.5" fill="#666"/>
<line x1="177.20" y1="330.00" x2="223.30" y2="330.00" stroke="#111" stroke-width="1.8" />
<line x1="177.20" y1="357.00" x2="223.30" y2="357.00" stroke="#111" stroke-width="1.8" />
<line x1="177.50" y1="329.80" x2="177.50" y2="363.20" stroke="#111" stroke-width="1.0" />
<line x1="222.50" y1="329.80" x2="222.50" y2="363.20" stroke="#111" stroke-width="1.0" />
<path d="M177.7,361.4 L197.3,361.4 L198.3,362.6 L200.9,362.6 L201.9,361.4 L222.7,361.4" fill="none" stroke="#111" stroke-width="0.9"/>
<line x1="177.70" y1="363.50" x2="222.70" y2="363.50" stroke="#111" stroke-width="1.0" />
<line x1="190.50" y1="361.40" x2="190.50" y2="363.20" stroke="#111" stroke-width="0.8" />
<line x1="210.50" y1="361.40" x2="210.50" y2="363.20" stroke="#111" stroke-width="0.8" />
<polygon points="176.20,339.10 177.20,339.10 177.20,349.30 172.40,349.30 172.40,344.00 176.20,344.00" fill="#fff" stroke="#111" stroke-width="0.8" />
<polygon points="223.30,339.10 224.30,339.10 224.30,344.00 228.40,344.00 228.40,349.30 223.30,349.30" fill="#fff" stroke="#111" stroke-width="0.8" />
<circle cx="199.60" cy="341.80" r="10.60" fill="none" stroke="#111" stroke-width="1.1" />
<circle cx="199.60" cy="341.80" r="3.70" fill="none" stroke="#111" stroke-width="0.9" />
<circle cx="199.60" cy="341.80" r="2.00" fill="none" stroke="#111" stroke-width="0.7" />
<line x1="210.20" y1="341.50" x2="232.00" y2="341.50" stroke="#8a8a8a" stroke-width="1.0" />
<line x1="107.50" y1="329.50" x2="175.10" y2="329.50" stroke="#8a8a8a" stroke-width="1.0" />
<line x1="84.00" y1="339.50" x2="174.00" y2="339.50" stroke="#8a8a8a" stroke-width="1.0" />
<line x1="84.00" y1="348.50" x2="124.70" y2="348.50" stroke="#8a8a8a" stroke-width="1.0" />
<line x1="129.00" y1="348.50" x2="172.00" y2="348.50" stroke="#8a8a8a" stroke-width="1.0" />
<line x1="107.50" y1="363.50" x2="175.00" y2="363.50" stroke="#8a8a8a" stroke-width="1.0" />
<text x="72.20" y="292.50" font-family="Liberation Sans" font-size="6.8" fill="#7c7c7c" text-anchor="start" font-weight="normal" textLength="21.40" lengthAdjust="spacingAndGlyphs"  stroke="#7c7c7c" stroke-width="0.08">9.4mm</text>
<text x="70.70" y="301.10" font-family="Liberation Sans" font-size="6.8" fill="#7c7c7c" text-anchor="start" font-weight="normal" textLength="24.60" lengthAdjust="spacingAndGlyphs"  stroke="#7c7c7c" stroke-width="0.08"><tspan font-size="8.84">[</tspan>0.37in<tspan font-size="8.84">]</tspan></text>
<line x1="103.20" y1="294.50" x2="111.80" y2="294.50" stroke="#8a8a8a" stroke-width="1.0" />
<line x1="111.50" y1="294.20" x2="111.50" y2="329.60" stroke="#8a8a8a" stroke-width="1.0" />
<polygon points="111.15,329.60 109.91,322.10 113.69,322.10 112.45,329.60" fill="#8a8a8a" stroke="none" stroke-width="1.0" />
<line x1="111.50" y1="363.30" x2="111.50" y2="378.30" stroke="#8a8a8a" stroke-width="1.0" />
<polygon points="112.45,363.30 113.69,370.80 109.91,370.80 111.15,363.30" fill="#8a8a8a" stroke="none" stroke-width="1.0" />
<text x="50.30" y="321.40" font-family="Liberation Sans" font-size="6.8" fill="#7c7c7c" text-anchor="start" font-weight="normal" textLength="21.40" lengthAdjust="spacingAndGlyphs"  stroke="#7c7c7c" stroke-width="0.08">2.8mm</text>
<text x="48.60" y="331.10" font-family="Liberation Sans" font-size="6.8" fill="#7c7c7c" text-anchor="start" font-weight="normal" textLength="24.60" lengthAdjust="spacingAndGlyphs"  stroke="#7c7c7c" stroke-width="0.08"><tspan font-size="8.84">[</tspan>0.11in<tspan font-size="8.84">]</tspan></text>
<line x1="79.70" y1="324.50" x2="88.90" y2="324.50" stroke="#8a8a8a" stroke-width="1.0" />
<line x1="88.50" y1="324.20" x2="88.50" y2="339.20" stroke="#8a8a8a" stroke-width="1.0" />
<polygon points="88.25,339.20 87.02,331.70 90.79,331.70 89.55,339.20" fill="#8a8a8a" stroke="none" stroke-width="1.0" />
<line x1="88.50" y1="348.70" x2="88.50" y2="363.30" stroke="#8a8a8a" stroke-width="1.0" />
<polygon points="89.55,348.70 90.79,356.20 87.02,356.20 88.25,348.70" fill="#8a8a8a" stroke="none" stroke-width="1.0" />
<line x1="126.50" y1="343.50" x2="126.50" y2="391.10" stroke="#8a8a8a" stroke-width="1.0" />
<line x1="176.50" y1="350.00" x2="176.50" y2="391.10" stroke="#8a8a8a" stroke-width="1.0" />
<line x1="111.80" y1="386.50" x2="126.40" y2="386.50" stroke="#8a8a8a" stroke-width="1.0" />
<polygon points="126.40,387.45 118.90,388.69 118.90,384.92 126.40,386.15" fill="#8a8a8a" stroke="none" stroke-width="1.0" />
<line x1="176.20" y1="386.50" x2="190.00" y2="386.50" stroke="#8a8a8a" stroke-width="1.0" />
<polygon points="176.20,386.15 183.70,384.92 183.70,388.69 176.20,387.45" fill="#8a8a8a" stroke="none" stroke-width="1.0" />
<text x="141.80" y="384.70" font-family="Liberation Sans" font-size="6.8" fill="#7c7c7c" text-anchor="start" font-weight="normal" textLength="24.30" lengthAdjust="spacingAndGlyphs"  stroke="#7c7c7c" stroke-width="0.08">14.0mm</text>
<text x="141.20" y="392.20" font-family="Liberation Sans" font-size="6.8" fill="#7c7c7c" text-anchor="start" font-weight="normal" textLength="24.50" lengthAdjust="spacingAndGlyphs"  stroke="#7c7c7c" stroke-width="0.08"><tspan font-size="8.84">[</tspan>0.55in<tspan font-size="8.84">]</tspan></text>
<text x="139.70" y="304.30" font-family="Liberation Sans" font-size="6.8" fill="#7c7c7c" text-anchor="start" font-weight="normal" textLength="28.80" lengthAdjust="spacingAndGlyphs"  stroke="#7c7c7c" stroke-width="0.08">Ø2.0mm</text>
<text x="139.10" y="313.90" font-family="Liberation Sans" font-size="6.8" fill="#7c7c7c" text-anchor="start" font-weight="normal" textLength="24.50" lengthAdjust="spacingAndGlyphs"  stroke="#7c7c7c" stroke-width="0.08"><tspan font-size="8.84">[</tspan>0.08in<tspan font-size="8.84">]</tspan></text>
<line x1="168.50" y1="303.50" x2="177.00" y2="303.50" stroke="#8a8a8a" stroke-width="1.0" />
<line x1="177.00" y1="303.20" x2="198.90" y2="340.90" stroke="#8a8a8a" stroke-width="1.0" />
<text x="221.00" y="301.10" font-family="Liberation Sans" font-size="6.8" fill="#7c7c7c" text-anchor="start" font-weight="normal" textLength="27.70" lengthAdjust="spacingAndGlyphs"  stroke="#7c7c7c" stroke-width="0.08">Ø5.8mm</text>
<text x="219.70" y="310.30" font-family="Liberation Sans" font-size="6.8" fill="#7c7c7c" text-anchor="start" font-weight="normal" textLength="24.30" lengthAdjust="spacingAndGlyphs"  stroke="#7c7c7c" stroke-width="0.08"><tspan font-size="8.84">[</tspan>0.23in<tspan font-size="8.84">]</tspan></text>
<line x1="220.80" y1="299.50" x2="211.10" y2="299.50" stroke="#8a8a8a" stroke-width="1.0" />
<line x1="211.10" y1="299.60" x2="202.00" y2="328.80" stroke="#8a8a8a" stroke-width="1.0" />
<polygon points="201.38,328.61 202.43,321.08 206.03,322.20 202.62,328.99" fill="#8a8a8a" stroke="none" stroke-width="1.0" />
<line x1="275.00" y1="342.50" x2="320.20" y2="342.50" stroke="#8a8a8a" stroke-width="1.0" />
<line x1="225.70" y1="362.50" x2="320.20" y2="362.50" stroke="#8a8a8a" stroke-width="1.0" />
<line x1="225.50" y1="361.50" x2="256.50" y2="361.50" stroke="#8a8a8a" stroke-width="1.0" />
<text x="276.20" y="322.60" font-family="Liberation Sans" font-size="6.8" fill="#7c7c7c" text-anchor="start" font-weight="normal" textLength="21.40" lengthAdjust="spacingAndGlyphs"  stroke="#7c7c7c" stroke-width="0.08">6.0mm</text>
<text x="275.00" y="330.70" font-family="Liberation Sans" font-size="6.8" fill="#7c7c7c" text-anchor="start" font-weight="normal" textLength="24.10" lengthAdjust="spacingAndGlyphs"  stroke="#7c7c7c" stroke-width="0.08"><tspan font-size="8.84">[</tspan>0.24in<tspan font-size="8.84">]</tspan></text>
<line x1="306.20" y1="324.50" x2="315.40" y2="324.50" stroke="#8a8a8a" stroke-width="1.0" />
<line x1="315.50" y1="324.30" x2="315.50" y2="362.90" stroke="#8a8a8a" stroke-width="1.0" />
<polygon points="316.05,342.90 317.28,350.40 313.51,350.40 314.75,342.90" fill="#8a8a8a" stroke="none" stroke-width="1.0" />
<polygon points="314.75,362.90 313.51,355.40 317.28,355.40 316.05,362.90" fill="#8a8a8a" stroke="none" stroke-width="1.0" />
<line x1="283.50" y1="342.90" x2="283.50" y2="383.30" stroke="#8a8a8a" stroke-width="1.0" />
<line x1="283.70" y1="383.50" x2="292.70" y2="383.50" stroke="#8a8a8a" stroke-width="1.0" />
<polygon points="284.35,342.90 285.58,350.40 281.81,350.40 283.05,342.90" fill="#8a8a8a" stroke="none" stroke-width="1.0" />
<polygon points="283.05,362.90 281.81,355.40 285.58,355.40 284.35,362.90" fill="#8a8a8a" stroke="none" stroke-width="1.0" />
<text x="301.90" y="381.10" font-family="Liberation Sans" font-size="6.8" fill="#7c7c7c" text-anchor="start" font-weight="normal" textLength="21.10" lengthAdjust="spacingAndGlyphs"  stroke="#7c7c7c" stroke-width="0.08">5.5mm</text>
<text x="300.80" y="389.10" font-family="Liberation Sans" font-size="6.8" fill="#7c7c7c" text-anchor="start" font-weight="normal" textLength="23.60" lengthAdjust="spacingAndGlyphs"  stroke="#7c7c7c" stroke-width="0.08"><tspan font-size="8.84">[</tspan>0.22in<tspan font-size="8.84">]</tspan></text>
<line x1="252.50" y1="346.10" x2="252.50" y2="361.70" stroke="#8a8a8a" stroke-width="1.0" />
<polygon points="251.75,361.70 250.52,354.20 254.28,354.20 253.05,361.70" fill="#8a8a8a" stroke="none" stroke-width="1.0" />
<line x1="252.50" y1="363.10" x2="252.50" y2="383.00" stroke="#8a8a8a" stroke-width="1.0" />
<polygon points="253.05,363.10 254.28,370.60 250.52,370.60 251.75,363.10" fill="#8a8a8a" stroke="none" stroke-width="1.0" />
<line x1="252.40" y1="383.50" x2="243.10" y2="383.50" stroke="#8a8a8a" stroke-width="1.0" />
<text x="212.60" y="381.80" font-family="Liberation Sans" font-size="6.8" fill="#7c7c7c" text-anchor="start" font-weight="normal" textLength="21.70" lengthAdjust="spacingAndGlyphs"  stroke="#7c7c7c" stroke-width="0.08">0.5mm</text>
<text x="211.80" y="389.40" font-family="Liberation Sans" font-size="6.8" fill="#7c7c7c" text-anchor="start" font-weight="normal" textLength="24.20" lengthAdjust="spacingAndGlyphs"  stroke="#7c7c7c" stroke-width="0.08"><tspan font-size="8.84">[</tspan>0.02in<tspan font-size="8.84">]</tspan></text>
<rect x="367.50" y="338.50" width="22.00" height="7.00" rx="0" fill="#fff" stroke="#111" stroke-width="1.0" />
<polygon points="389.30,338.20 408.80,331.20 408.80,352.40 389.30,345.70" fill="#fff" stroke="#111" stroke-width="1.0" />
<rect x="408.50" y="331.50" width="29.00" height="21.00" rx="0" fill="#fff" stroke="#111" stroke-width="1.0" />
<rect x="437.50" y="331.50" width="3.00" height="21.00" rx="0" fill="#fff" stroke="#111" stroke-width="0.8" />
<rect x="514.50" y="331.50" width="4.00" height="21.00" rx="0" fill="#fff" stroke="#111" stroke-width="0.8" />
<rect x="518.50" y="331.50" width="28.00" height="21.00" rx="0" fill="#fff" stroke="#111" stroke-width="1.0" />
<polygon points="546.70,331.20 566.10,338.30 566.10,345.30 546.70,352.40" fill="#fff" stroke="#111" stroke-width="1.0" />
<rect x="566.50" y="338.50" width="21.00" height="7.00" rx="0" fill="#fff" stroke="#111" stroke-width="1.0" />
<path d="M424.6,361.3 L441.3,361.3 L441.3,357 L513,357 L513,361.3 L531.2,361.3 L531.2,363.6 L424.6,363.6 Z" fill="#fff" stroke="#111" stroke-width="0.9"/>
<rect x="440.50" y="329.50" width="74.00" height="28.00" rx="0" fill="#fff" stroke="#111" stroke-width="1.2" />
<line x1="440.30" y1="357.00" x2="514.30" y2="357.00" stroke="#111" stroke-width="1.6" />
<rect x="441.8" y="330" width="1.8" height="27" fill="#7a7a7a"/>
<rect x="511.0" y="330" width="1.8" height="27" fill="#7a7a7a"/>
<rect x="446.50" y="339.50" width="63.00" height="10.00" rx="0" fill="#fff" stroke="#111" stroke-width="1.0" />
<line x1="446.00" y1="339.00" x2="509.80" y2="339.00" stroke="#111" stroke-width="1.5" />
<line x1="446.00" y1="349.00" x2="509.80" y2="349.00" stroke="#333" stroke-width="1.5" />
<line x1="448.00" y1="343.50" x2="508.00" y2="343.50" stroke="#555" stroke-width="0.8" />
<line x1="450.50" y1="342.20" x2="450.50" y2="344.80" stroke="#111" stroke-width="1.0" />
<line x1="449.00" y1="343.50" x2="452.00" y2="343.50" stroke="#111" stroke-width="1.0" />
<line x1="455.50" y1="342.80" x2="455.50" y2="344.20" stroke="#333" stroke-width="0.8" />
<line x1="459.50" y1="342.20" x2="459.50" y2="344.80" stroke="#111" stroke-width="1.0" />
<line x1="458.00" y1="343.50" x2="461.00" y2="343.50" stroke="#111" stroke-width="1.0" />
<line x1="464.50" y1="342.80" x2="464.50" y2="344.20" stroke="#333" stroke-width="0.8" />
<line x1="468.50" y1="342.20" x2="468.50" y2="344.80" stroke="#111" stroke-width="1.0" />
<line x1="467.00" y1="343.50" x2="470.00" y2="343.50" stroke="#111" stroke-width="1.0" />
<line x1="473.50" y1="342.80" x2="473.50" y2="344.20" stroke="#333" stroke-width="0.8" />
<line x1="477.50" y1="342.20" x2="477.50" y2="344.80" stroke="#111" stroke-width="1.0" />
<line x1="476.00" y1="343.50" x2="479.00" y2="343.50" stroke="#111" stroke-width="1.0" />
<line x1="482.50" y1="342.80" x2="482.50" y2="344.20" stroke="#333" stroke-width="0.8" />
<line x1="486.50" y1="342.20" x2="486.50" y2="344.80" stroke="#111" stroke-width="1.0" />
<line x1="485.00" y1="343.50" x2="488.00" y2="343.50" stroke="#111" stroke-width="1.0" />
<line x1="491.50" y1="342.80" x2="491.50" y2="344.20" stroke="#333" stroke-width="0.8" />
<line x1="495.50" y1="342.20" x2="495.50" y2="344.80" stroke="#111" stroke-width="1.0" />
<line x1="494.00" y1="343.50" x2="497.00" y2="343.50" stroke="#111" stroke-width="1.0" />
<line x1="500.50" y1="342.80" x2="500.50" y2="344.20" stroke="#333" stroke-width="0.8" />
<line x1="504.50" y1="342.20" x2="504.50" y2="344.80" stroke="#111" stroke-width="1.0" />
<line x1="503.00" y1="343.50" x2="506.00" y2="343.50" stroke="#111" stroke-width="1.0" />
<line x1="509.50" y1="342.80" x2="509.50" y2="344.20" stroke="#333" stroke-width="0.8" />
<line x1="367.50" y1="281.20" x2="367.50" y2="335.50" stroke="#8a8a8a" stroke-width="1.0" />
<line x1="587.50" y1="281.20" x2="587.50" y2="335.50" stroke="#8a8a8a" stroke-width="1.0" />
<line x1="367.80" y1="285.50" x2="449.70" y2="285.50" stroke="#8a8a8a" stroke-width="1.0" />
<polygon points="367.80,284.75 375.30,283.51 375.30,287.28 367.80,286.05" fill="#8a8a8a" stroke="none" stroke-width="1.0" />
<line x1="485.00" y1="285.50" x2="587.70" y2="285.50" stroke="#8a8a8a" stroke-width="1.0" />
<polygon points="587.70,286.05 580.20,287.28 580.20,283.51 587.70,284.75" fill="#8a8a8a" stroke="none" stroke-width="1.0" />
<text x="454.30" y="284.00" font-family="Liberation Sans" font-size="6.8" fill="#7c7c7c" text-anchor="start" font-weight="normal" textLength="25.60" lengthAdjust="spacingAndGlyphs"  stroke="#7c7c7c" stroke-width="0.08">61.8mm</text>
<text x="454.80" y="291.90" font-family="Liberation Sans" font-size="6.8" fill="#7c7c7c" text-anchor="start" font-weight="normal" textLength="24.30" lengthAdjust="spacingAndGlyphs"  stroke="#7c7c7c" stroke-width="0.08"><tspan font-size="8.84">[</tspan>2.43in<tspan font-size="8.84">]</tspan></text>
<line x1="408.50" y1="299.60" x2="408.50" y2="331.00" stroke="#8a8a8a" stroke-width="1.0" />
<line x1="437.50" y1="299.60" x2="437.50" y2="331.00" stroke="#8a8a8a" stroke-width="1.0" />
<line x1="403.40" y1="304.50" x2="437.70" y2="304.50" stroke="#8a8a8a" stroke-width="1.0" />
<polygon points="408.80,303.35 416.30,302.12 416.30,305.88 408.80,304.65" fill="#8a8a8a" stroke="none" stroke-width="1.0" />
<polygon points="437.70,304.65 430.20,305.88 430.20,302.12 437.70,303.35" fill="#8a8a8a" stroke="none" stroke-width="1.0" />
<text x="374.50" y="303.10" font-family="Liberation Sans" font-size="6.8" fill="#7c7c7c" text-anchor="start" font-weight="normal" textLength="22.30" lengthAdjust="spacingAndGlyphs"  stroke="#7c7c7c" stroke-width="0.08">8.0mm</text>
<text x="373.70" y="310.90" font-family="Liberation Sans" font-size="6.8" fill="#7c7c7c" text-anchor="start" font-weight="normal" textLength="24.20" lengthAdjust="spacingAndGlyphs"  stroke="#7c7c7c" stroke-width="0.08"><tspan font-size="8.84">[</tspan>0.31in<tspan font-size="8.84">]</tspan></text>
<line x1="440.50" y1="312.10" x2="440.50" y2="329.00" stroke="#8a8a8a" stroke-width="1.0" />
<line x1="514.50" y1="312.10" x2="514.50" y2="329.00" stroke="#8a8a8a" stroke-width="1.0" />
<line x1="440.40" y1="316.50" x2="465.00" y2="316.50" stroke="#8a8a8a" stroke-width="1.0" />
<polygon points="440.40,315.65 447.90,314.42 447.90,318.19 440.40,316.95" fill="#8a8a8a" stroke="none" stroke-width="1.0" />
<line x1="491.00" y1="316.50" x2="514.30" y2="316.50" stroke="#8a8a8a" stroke-width="1.0" />
<polygon points="514.30,316.95 506.80,318.19 506.80,314.42 514.30,315.65" fill="#8a8a8a" stroke="none" stroke-width="1.0" />
<text x="465.50" y="314.90" font-family="Liberation Sans" font-size="6.8" fill="#7c7c7c" text-anchor="start" font-weight="normal" textLength="25.30" lengthAdjust="spacingAndGlyphs"  stroke="#7c7c7c" stroke-width="0.08">20.8mm</text>
<text x="466.00" y="322.80" font-family="Liberation Sans" font-size="6.8" fill="#7c7c7c" text-anchor="start" font-weight="normal" textLength="24.20" lengthAdjust="spacingAndGlyphs"  stroke="#7c7c7c" stroke-width="0.08"><tspan font-size="8.84">[</tspan>0.82in<tspan font-size="8.84">]</tspan></text>
<line x1="446.50" y1="352.00" x2="446.50" y2="382.50" stroke="#8a8a8a" stroke-width="1.0" />
<line x1="509.50" y1="352.00" x2="509.50" y2="382.50" stroke="#8a8a8a" stroke-width="1.0" />
<line x1="430.60" y1="378.50" x2="446.10" y2="378.50" stroke="#8a8a8a" stroke-width="1.0" />
<polygon points="446.10,379.45 438.60,380.69 438.60,376.92 446.10,378.15" fill="#8a8a8a" stroke="none" stroke-width="1.0" />
<line x1="509.70" y1="378.50" x2="525.00" y2="378.50" stroke="#8a8a8a" stroke-width="1.0" />
<polygon points="509.70,378.15 517.20,376.92 517.20,380.69 509.70,379.45" fill="#8a8a8a" stroke="none" stroke-width="1.0" />
<text x="465.50" y="376.90" font-family="Liberation Sans" font-size="6.8" fill="#7c7c7c" text-anchor="start" font-weight="normal" textLength="25.30" lengthAdjust="spacingAndGlyphs"  stroke="#7c7c7c" stroke-width="0.08">17.8mm</text>
<text x="466.00" y="384.80" font-family="Liberation Sans" font-size="6.8" fill="#7c7c7c" text-anchor="start" font-weight="normal" textLength="24.20" lengthAdjust="spacingAndGlyphs"  stroke="#7c7c7c" stroke-width="0.08"><tspan font-size="8.84">[</tspan>0.70in<tspan font-size="8.84">]</tspan></text>
<line x1="424.50" y1="364.50" x2="424.50" y2="405.30" stroke="#8a8a8a" stroke-width="1.0" />
<line x1="531.50" y1="364.50" x2="531.50" y2="405.30" stroke="#8a8a8a" stroke-width="1.0" />
<line x1="424.60" y1="401.50" x2="460.00" y2="401.50" stroke="#8a8a8a" stroke-width="1.0" />
<polygon points="424.60,400.85 432.10,399.62 432.10,403.38 424.60,402.15" fill="#8a8a8a" stroke="none" stroke-width="1.0" />
<line x1="496.00" y1="401.50" x2="531.20" y2="401.50" stroke="#8a8a8a" stroke-width="1.0" />
<polygon points="531.20,402.15 523.70,403.38 523.70,399.62 531.20,400.85" fill="#8a8a8a" stroke="none" stroke-width="1.0" />
<text x="465.50" y="399.70" font-family="Liberation Sans" font-size="6.8" fill="#7c7c7c" text-anchor="start" font-weight="normal" textLength="25.30" lengthAdjust="spacingAndGlyphs"  stroke="#7c7c7c" stroke-width="0.08">30.0mm</text>
<text x="466.00" y="407.60" font-family="Liberation Sans" font-size="6.8" fill="#7c7c7c" text-anchor="start" font-weight="normal" textLength="24.20" lengthAdjust="spacingAndGlyphs"  stroke="#7c7c7c" stroke-width="0.08"><tspan font-size="8.84">[</tspan>1.18in<tspan font-size="8.84">]</tspan></text>
<line x1="566.50" y1="348.00" x2="566.50" y2="372.20" stroke="#8a8a8a" stroke-width="1.0" />
<line x1="587.50" y1="348.00" x2="587.50" y2="372.20" stroke="#8a8a8a" stroke-width="1.0" />
<line x1="566.10" y1="368.50" x2="598.90" y2="368.50" stroke="#8a8a8a" stroke-width="1.0" />
<polygon points="566.10,367.85 573.60,366.62 573.60,370.38 566.10,369.15" fill="#8a8a8a" stroke="none" stroke-width="1.0" />
<polygon points="587.70,369.15 580.20,370.38 580.20,366.62 587.70,367.85" fill="#8a8a8a" stroke="none" stroke-width="1.0" />
<text x="604.40" y="365.60" font-family="Liberation Sans" font-size="6.8" fill="#7c7c7c" text-anchor="start" font-weight="normal" textLength="21.90" lengthAdjust="spacingAndGlyphs"  stroke="#7c7c7c" stroke-width="0.08">6.0mm</text>
<text x="603.00" y="374.70" font-family="Liberation Sans" font-size="6.8" fill="#7c7c7c" text-anchor="start" font-weight="normal" textLength="25.40" lengthAdjust="spacingAndGlyphs"  stroke="#7c7c7c" stroke-width="0.08"><tspan font-size="8.84">[</tspan>0.24in<tspan font-size="8.84">]</tspan></text>
<text x="32.30" y="419.90" font-family="Liberation Sans" font-size="6.4" fill="#333" text-anchor="start" font-weight="normal" textLength="21.60" lengthAdjust="spacingAndGlyphs" >NOTES:</text>
<text x="32.30" y="427.00" font-family="Liberation Sans" font-size="6.4" fill="#333" text-anchor="start" font-weight="normal" >1.</text>
<text x="56.20" y="427.00" font-family="Liberation Sans" font-size="6.4" fill="#333" text-anchor="start" font-weight="normal" textLength="168.80" lengthAdjust="spacingAndGlyphs" >THE DEVICE IS SUPPLIED WITH 2 ATTACHED FIBER TAILS.</text>
<text x="32.30" y="439.90" font-family="Liberation Sans" font-size="6.4" fill="#333" text-anchor="start" font-weight="normal" >2.</text>
<text x="56.20" y="439.90" font-family="Liberation Sans" font-size="6.4" fill="#333" text-anchor="start" font-weight="normal" textLength="58.40" lengthAdjust="spacingAndGlyphs" >FIBER TAIL DETAILS:</text>
<circle cx="57.90" cy="444.30" r="1.10" fill="#333" stroke="none" stroke-width="0" />
<text x="79.40" y="446.00" font-family="Liberation Sans" font-size="6.4" fill="#333" text-anchor="start" font-weight="normal" textLength="45.90" lengthAdjust="spacingAndGlyphs" >LENGTH: 1.5M.</text>
<circle cx="57.90" cy="451.60" r="1.10" fill="#333" stroke="none" stroke-width="0" />
<text x="79.40" y="453.30" font-family="Liberation Sans" font-size="6.4" fill="#333" text-anchor="start" font-weight="normal" textLength="122.20" lengthAdjust="spacingAndGlyphs" >TERMINATION: FC/APC CONNECTORS.</text>
<circle cx="57.90" cy="457.20" r="1.10" fill="#333" stroke="none" stroke-width="0" />
<text x="79.40" y="458.90" font-family="Liberation Sans" font-size="6.4" fill="#333" text-anchor="start" font-weight="normal" textLength="102.80" lengthAdjust="spacingAndGlyphs" >FIBER TYPE: CORNING SMF-28e+.</text>
<text x="137.90" y="493.70" font-family="Liberation Sans" font-size="9.2" fill="#333" text-anchor="start" font-weight="normal" textLength="118.90" lengthAdjust="spacingAndGlyphs" >FOR INFORMATION ONLY</text>
<text x="107.90" y="503.50" font-family="Liberation Sans" font-size="9.2" fill="#333" text-anchor="start" font-weight="normal" textLength="182.30" lengthAdjust="spacingAndGlyphs" >NOT FOR MANUFACTURING PURPOSES</text>
<rect x="404.50" y="426.50" width="251.00" height="81.00" rx="0" fill="none" stroke="#bdbdbd" stroke-width="1.0" />
<line x1="509.00" y1="426.60" x2="509.00" y2="507.00" stroke="#bdbdbd" stroke-width="1.6" />
<line x1="404.00" y1="447.50" x2="508.60" y2="447.50" stroke="#bdbdbd" stroke-width="1.2" />
<line x1="404.50" y1="447.80" x2="404.50" y2="507.00" stroke="#bdbdbd" stroke-width="1.4" />
<line x1="404.00" y1="459.50" x2="508.60" y2="459.50" stroke="#bdbdbd" stroke-width="1.0" />
<line x1="404.00" y1="470.50" x2="508.60" y2="470.50" stroke="#bdbdbd" stroke-width="1.0" />
<line x1="404.00" y1="481.50" x2="508.60" y2="481.50" stroke="#bdbdbd" stroke-width="1.0" />
<line x1="404.00" y1="491.50" x2="508.60" y2="491.50" stroke="#bdbdbd" stroke-width="1.0" />
<line x1="438.50" y1="447.80" x2="438.50" y2="481.00" stroke="#bdbdbd" stroke-width="1.0" />
<line x1="467.50" y1="447.80" x2="467.50" y2="481.00" stroke="#bdbdbd" stroke-width="1.0" />
<text x="410.70" y="435.80" font-family="Liberation Sans" font-size="6.4" fill="#444" text-anchor="start" font-weight="normal" textLength="31.70" lengthAdjust="spacingAndGlyphs" >DRAWING</text>
<text x="410.70" y="442.60" font-family="Liberation Sans" font-size="6.4" fill="#444" text-anchor="start" font-weight="normal" textLength="39.90" lengthAdjust="spacingAndGlyphs" >PROJECTION</text>
<circle cx="468.40" cy="437.30" r="7.50" fill="none" stroke="#111" stroke-width="1.1" />
<circle cx="468.40" cy="437.30" r="3.70" fill="none" stroke="#111" stroke-width="1.0" />
<polygon points="468.40,436.00 469.70,437.30 468.40,438.60 467.10,437.30" fill="#111" stroke="none" stroke-width="0" />
<path d="M458.8,437.3 H464.7 M472.1,437.3 H478 M468.4,427.7 V433.6 M468.4,441.0 V446.9" stroke="#111" stroke-width="1.1" fill="none"/>
<polygon points="486.40,433.50 501.40,430.00 501.40,444.60 486.40,441.50" fill="none" stroke="#111" stroke-width="1.0" />
<line x1="501.50" y1="430.00" x2="501.50" y2="444.60" stroke="#111" stroke-width="1.4" />
<path d="M484.7,437.3 H489 M491,437.3 H494 M496,437.3 H499 M500.5,437.3 H503.1" stroke="#111" stroke-width="1" fill="none"/>
<text x="452.40" y="455.90" font-family="Liberation Sans" font-size="6.4" fill="#444" text-anchor="middle" font-weight="normal" textLength="18.60" lengthAdjust="spacingAndGlyphs" >NAME</text>
<text x="487.50" y="455.90" font-family="Liberation Sans" font-size="6.4" fill="#444" text-anchor="middle" font-weight="normal" textLength="15.70" lengthAdjust="spacingAndGlyphs" >DATE</text>
<text x="420.80" y="466.70" font-family="Liberation Sans" font-size="6.0" fill="#444" text-anchor="middle" font-weight="normal" textLength="21.40" lengthAdjust="spacingAndGlyphs" >DRAWN</text>
<text x="452.90" y="467.00" font-family="Liberation Sans" font-size="6.4" fill="#444" text-anchor="middle" font-weight="normal" textLength="10.60" lengthAdjust="spacingAndGlyphs" >ND</text>
<text x="487.20" y="467.00" font-family="Liberation Sans" font-size="6.4" fill="#444" text-anchor="middle" font-weight="normal" textLength="31.90" lengthAdjust="spacingAndGlyphs" >24/APR/14</text>
<text x="420.80" y="477.90" font-family="Liberation Sans" font-size="6.0" fill="#444" text-anchor="middle" font-weight="normal" textLength="31.00" lengthAdjust="spacingAndGlyphs" >APPROVAL</text>
<text x="452.90" y="478.10" font-family="Liberation Sans" font-size="6.4" fill="#444" text-anchor="middle" font-weight="normal" textLength="10.00" lengthAdjust="spacingAndGlyphs" >JW</text>
<text x="487.20" y="478.10" font-family="Liberation Sans" font-size="6.4" fill="#444" text-anchor="middle" font-weight="normal" textLength="31.90" lengthAdjust="spacingAndGlyphs" >24/APR/14</text>
<text x="457.30" y="487.60" font-family="Liberation Sans" font-size="4.8" fill="#222" text-anchor="middle" font-weight="bold" textLength="77.00" lengthAdjust="spacingAndGlyphs" >COPYRIGHT © 2014 BY THORLABS</text>
<text x="457.30" y="497.90" font-family="Liberation Sans" font-size="4.8" fill="#444" text-anchor="middle" font-weight="normal" textLength="94.00" lengthAdjust="spacingAndGlyphs" >VALUES IN PARENTHESIS ARE CALCULATED</text>
<text x="457.30" y="503.90" font-family="Liberation Sans" font-size="4.8" fill="#444" text-anchor="middle" font-weight="normal" textLength="92.00" lengthAdjust="spacingAndGlyphs" >AND MAY CONTAIN ROUNDOFF ERRORS</text>
<line x1="508.60" y1="450.50" x2="655.50" y2="450.50" stroke="#bdbdbd" stroke-width="1.0" />
<line x1="508.60" y1="469.50" x2="655.50" y2="469.50" stroke="#bdbdbd" stroke-width="1.0" />
<line x1="508.60" y1="488.50" x2="655.50" y2="488.50" stroke="#bdbdbd" stroke-width="1.0" />
<line x1="637.50" y1="469.20" x2="637.50" y2="488.40" stroke="#bdbdbd" stroke-width="1.0" />
<line x1="598.50" y1="488.40" x2="598.50" y2="507.00" stroke="#bdbdbd" stroke-width="1.0" />
<text x="539.40" y="442.10" font-family="Liberation Sans" font-size="16.0" fill="#111" text-anchor="start" font-weight="bold" textLength="47.20" lengthAdjust="spacingAndGlyphs" stroke="#111" stroke-width="1.1">THOR</text>
<text x="587.40" y="442.10" font-family="Liberation Sans" font-size="16.0" fill="#111" text-anchor="start" font-weight="bold" textLength="38.00" lengthAdjust="spacingAndGlyphs" stroke="#111" stroke-width="1.6">LABS</text>
<text x="587.40" y="442.10" font-family="Liberation Sans" font-size="16.0" fill="#fff" text-anchor="start" font-weight="bold" textLength="38.00" lengthAdjust="spacingAndGlyphs" stroke="#fff" stroke-width="0.1">LABS</text>
<text x="540.6" y="448.3" font-family="Liberation Sans" font-size="6.0" fill="#2a2a3a" stroke="#2a2a3a" stroke-width="0.2" textLength="84.4" lengthAdjust="spacing">www.thorlabs.com</text>
<text x="514.90" y="462.60" font-family="Liberation Sans" font-size="9.0" fill="#333" text-anchor="start" font-weight="normal" textLength="135.20" lengthAdjust="spacingAndGlyphs" >Booster Optical Amplifier, 1350nm</text>
<text x="510.20" y="474.70" font-family="Liberation Sans" font-size="6.0" fill="#444" text-anchor="start" font-weight="normal" textLength="30.50" lengthAdjust="spacingAndGlyphs" >MATERIAL</text>
<text x="646.50" y="477.30" font-family="Liberation Sans" font-size="6.2" fill="#444" text-anchor="middle" font-weight="normal" textLength="12.50" lengthAdjust="spacingAndGlyphs" >REV</text>
<text x="646.50" y="486.00" font-family="Liberation Sans" font-size="10" fill="#333" text-anchor="middle" font-weight="normal" textLength="7.70" lengthAdjust="spacingAndGlyphs" >A</text>
<text x="510.20" y="494.80" font-family="Liberation Sans" font-size="6.0" fill="#444" text-anchor="start" font-weight="normal" textLength="20.20" lengthAdjust="spacingAndGlyphs" >ITEM #</text>
<text x="529.30" y="505.20" font-family="Liberation Sans" font-size="9.5" fill="#333" text-anchor="start" font-weight="normal" textLength="47.10" lengthAdjust="spacingAndGlyphs" >BOA1036S</text>
<text x="600.40" y="494.90" font-family="Liberation Sans" font-size="5.6" fill="#444" text-anchor="start" font-weight="normal" textLength="51.30" lengthAdjust="spacingAndGlyphs" >APPROX WEIGHT</text>
<text x="614.00" y="505.00" font-family="Liberation Sans" font-size="9.5" fill="#333" text-anchor="start" font-weight="normal" textLength="27.70" lengthAdjust="spacingAndGlyphs" >.18 kg</text>
</svg></body></html>
